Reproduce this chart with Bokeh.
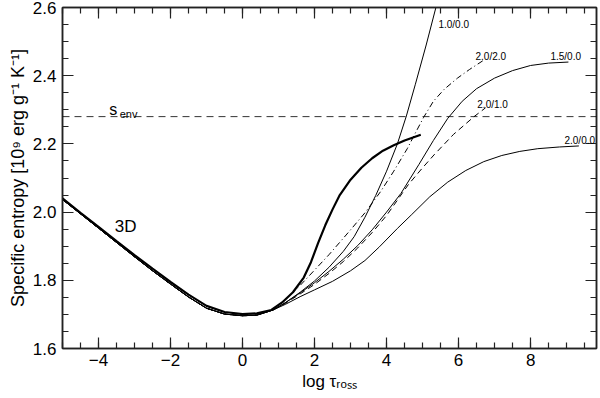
from bokeh.plotting import figure
from bokeh.models import FixedTicker, LinearAxis, Span, Label, Range1d, CustomJSTickFormatter
from bokeh.embed import file_html
from bokeh.resources import INLINE

# ---------------- data ----------------
x_ticks = [-4, -2, 0, 2, 4, 6, 8]
x_minor = [-5, -4.5, -4, -3.5, -3, -2.5, -2, -1.5, -1, -0.5, 0, 0.5, 1, 1.5, 2, 2.5,
           3, 3.5, 4, 4.5, 5, 5.5, 6, 6.5, 7, 7.5, 8, 8.5, 9, 9.5]
y_ticks = [1.6, 1.8, 2.0, 2.2, 2.4, 2.6]
y_minor = [1.6, 1.65, 1.7, 1.75, 1.8, 1.85, 1.9, 1.95, 2.0, 2.05, 2.1, 2.15, 2.2,
           2.25, 2.3, 2.35, 2.4, 2.45, 2.5, 2.55, 2.6]

s_env = 2.28

# 3D model (thick line)
x_3d = [-5, -4.5, -4, -3.5, -3, -2.5, -2, -1.5, -1, -0.5, 0, 0.4, 0.8, 1.1, 1.4, 1.7,
        1.9, 2.1, 2.3, 2.5, 2.7, 3.0, 3.3, 3.6, 3.9, 4.2, 4.5, 4.95]
s_3d = [2.040, 1.998, 1.957, 1.915, 1.874, 1.834, 1.795, 1.758, 1.725, 1.707, 1.701,
        1.703, 1.713, 1.735, 1.765, 1.808, 1.853, 1.910, 1.962, 2.008, 2.050, 2.095,
        2.130, 2.158, 2.180, 2.196, 2.210, 2.227]

# common inner part of the 1D models
x_1d_common = [-5, -4.5, -4, -3.5, -3, -2.5, -2, -1.5, -1, -0.5, 0, 0.4, 0.85]
s_1d_common = [2.037, 1.995, 1.953, 1.911, 1.869, 1.828, 1.789, 1.751, 1.718, 1.701,
               1.696, 1.698, 1.713]

# 1D models beyond the branching point
x_10_00 = [1.2, 1.6, 2.0, 2.4, 2.8, 3.1, 3.4, 3.7, 4.0, 4.3, 4.55, 4.8, 5.1, 5.37]
s_10_00 = [1.735, 1.765, 1.798, 1.838, 1.885, 1.928, 1.985, 2.049, 2.120, 2.200,
           2.282, 2.375, 2.490, 2.600]

x_20_20 = [1.2, 1.6, 2.0, 2.4, 2.73, 3.0, 3.4, 3.84, 4.2, 4.58, 4.8, 5.03, 5.3, 5.6,
           5.97, 6.3, 6.69]
s_20_20 = [1.745, 1.785, 1.830, 1.875, 1.915, 1.948, 1.998, 2.061, 2.120, 2.187,
           2.232, 2.278, 2.325, 2.360, 2.393, 2.418, 2.445]

x_15_00 = [1.2, 1.6, 2.0, 2.4, 2.8, 3.2, 3.6, 4.0, 4.4, 4.9, 5.3, 5.7, 6.1, 6.5, 7.0,
           7.5, 8.0, 8.5, 9.05]
s_15_00 = [1.735, 1.763, 1.793, 1.826, 1.862, 1.902, 1.948, 2.000, 2.055, 2.140,
           2.210, 2.275, 2.325, 2.362, 2.393, 2.415, 2.430, 2.437, 2.440]

x_20_10 = [1.2, 1.6, 2.0, 2.4, 2.8, 3.2, 3.6, 4.0, 4.3, 4.6, 5.0, 5.32, 5.86, 6.43, 6.75]
s_20_10 = [1.733, 1.760, 1.788, 1.820, 1.855, 1.895, 1.940, 1.990, 2.035, 2.080,
           2.130, 2.168, 2.228, 2.280, 2.306]

x_20_00 = [1.2, 1.6, 2.0, 2.5, 3.0, 3.4, 3.8, 4.3, 4.7, 5.2, 5.7, 6.2, 6.7, 7.2, 7.7,
           8.2, 8.8, 9.34]
s_20_00 = [1.730, 1.752, 1.772, 1.797, 1.828, 1.858, 1.898, 1.952, 1.993, 2.045,
           2.088, 2.122, 2.148, 2.166, 2.178, 2.186, 2.191, 2.194]

model_names = ["1.0/0.0", "2.0/2.0", "1.5/0.0", "2.0/1.0", "2.0/0.0"]

FONT = "Liberation Sans"

p = figure(width=600, height=398, x_range=Range1d(-5, 9.83), y_range=Range1d(1.6, 2.6),
           output_backend="svg", toolbar_location=None,
           min_border_left=62, min_border_right=4, min_border_top=7, min_border_bottom=50)
p.xgrid.visible = False
p.ygrid.visible = False
p.outline_line_color = "#222222"
p.outline_line_width = 1.5

xt = FixedTicker(ticks=x_ticks, minor_ticks=x_minor)
yt = FixedTicker(ticks=y_ticks, minor_ticks=y_minor)


def style_axis(ax, labels=True):
    ax.axis_line_color = "#222222"
    ax.axis_line_width = 1.5
    ax.major_tick_line_color = "#222222"
    ax.minor_tick_line_color = "#222222"
    ax.major_tick_line_width = 1.2
    ax.minor_tick_line_width = 1.2
    ax.major_tick_in = 11
    ax.major_tick_out = 0
    ax.minor_tick_in = 6
    ax.minor_tick_out = 0
    if labels:
        ax.major_label_text_font = FONT
        ax.major_label_text_font_size = "17px"
        ax.major_label_text_color = "black"
    else:
        ax.formatter = CustomJSTickFormatter(code="return ''")
        ax.major_label_standoff = 0


p.xaxis.ticker = xt
p.yaxis.ticker = yt
style_axis(p.xaxis[0])
style_axis(p.yaxis[0])
p.xaxis.major_label_standoff = 5
p.yaxis.major_label_standoff = 6
p.xaxis.major_label_overrides = {-4: "\u22124", -2: "\u22122"}
p.yaxis.major_label_overrides = {1.6: "1.6", 1.8: "1.8", 2.0: "2.0", 2.2: "2.2",
                                 2.4: "2.4", 2.6: "2.6"}
p.yaxis.axis_label = "Specific entropy [10\u2079 erg g\u207b\u00b9 K\u207b\u00b9]"
p.yaxis.axis_label_text_font = FONT
p.yaxis.axis_label_text_font_size = "18px"
p.yaxis.axis_label_text_font_style = "normal"
p.yaxis.axis_label_text_color = "black"
p.yaxis.axis_label_standoff = 2

p.xaxis.axis_label = "log \u03c4\u1d63\u2092\u209b\u209b"
p.xaxis.axis_label_text_font = FONT
p.xaxis.axis_label_text_font_size = "17px"
p.xaxis.axis_label_text_font_style = "normal"
p.xaxis.axis_label_text_color = "black"
p.xaxis.axis_label_standoff = 3

ax_r = LinearAxis(ticker=yt)
style_axis(ax_r, labels=False)
p.add_layout(ax_r, "right")
ax_t = LinearAxis(ticker=xt)
style_axis(ax_t, labels=False)
p.add_layout(ax_t, "above")

# s_env line
p.add_layout(Span(location=s_env, dimension="width", line_color="black",
                  line_width=1, line_dash="7 5", line_alpha=0.8))

# 1D models
styles = [None, "6 3 1 3", None, "6 4", None]
tails = [(x_10_00, s_10_00), (x_20_20, s_20_20), (x_15_00, s_15_00),
         (x_20_10, s_20_10), (x_20_00, s_20_00)]
for (xs, ss), dash in zip(tails, styles):
    kw = {}
    if dash:
        kw["line_dash"] = dash
    p.line(x_1d_common + xs, s_1d_common + ss, line_color="black", line_width=1.0, **kw)

# 3D model
p.line(x_3d, s_3d, line_color="black", line_width=2.2)

# labels
lab_pos = [(5.44, 2.551), (6.47, 2.457), (8.55, 2.457), (6.52, 2.317), (8.94, 2.209)]
for name, (lx, ly) in zip(model_names, lab_pos):
    p.add_layout(Label(x=lx, y=ly, text=name, text_font=FONT, text_font_size="10px",
                       text_color="black", text_baseline="alphabetic"))

p.add_layout(Label(x=-3.70, y=2.300, text="s", text_font=FONT, text_font_size="16px",
                   text_color="black", text_baseline="alphabetic"))
p.add_layout(Label(x=-3.41, y=2.289, text="env", text_font=FONT, text_font_size="11px",
                   text_color="black", text_baseline="alphabetic"))
p.add_layout(Label(x=-3.55, y=1.958, text="3D", text_font=FONT, text_font_size="17px",
                   text_color="black", text_baseline="alphabetic"))

open("out.html", "w").write(file_html(p, INLINE))
